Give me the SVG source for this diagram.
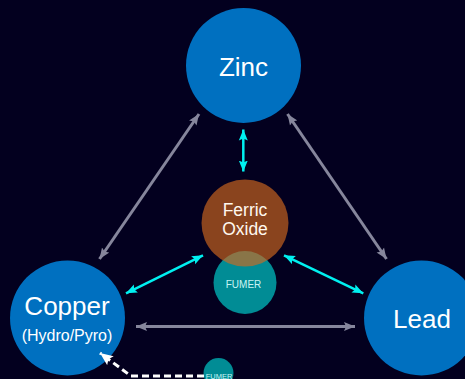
<svg xmlns="http://www.w3.org/2000/svg" width="465" height="379" viewBox="0 0 465 379">
  <defs>
    <style>
      .bg { fill: #03001f; }
      .metal { fill: #0070c0; }
      .fumer { fill: #018c95; }
      .ferric { fill: #d2691e; fill-opacity: 0.65; }
      .label { font-family: "Liberation Sans", Arial, sans-serif; fill: #ffffff; text-anchor: middle; }
      .big { font-size: 26px; }
      .sub { font-size: 16px; }
      .mid { font-size: 17.5px; fill: #fff8ee; }
      .fumer-label { font-family: "Liberation Sans", Arial, sans-serif; fill: #c8f4f4; text-anchor: middle; }
      .gray { stroke: #86869c; stroke-width: 3; fill: none; }
      .cyan { stroke: #00f0f0; stroke-width: 2.5; fill: none; }
      .dash { stroke: #ffffff; stroke-width: 3; fill: none; stroke-dasharray: 7 4; }
    </style>
    <marker id="head-gray" markerUnits="userSpaceOnUse" markerWidth="12" markerHeight="10" viewBox="0 0 12 10" refX="11" refY="5" orient="auto-start-reverse">
      <path d="M0,0.5 L11,5 L0,9.5 L2,5 Z" fill="#86869c"/>
    </marker>
    <marker id="head-cyan" markerUnits="userSpaceOnUse" markerWidth="12" markerHeight="10" viewBox="0 0 12 10" refX="11" refY="5" orient="auto-start-reverse">
      <path d="M0,0.5 L11,5 L0,9.5 L2,5 Z" fill="#00f0f0"/>
    </marker>
    <marker id="head-white" markerUnits="userSpaceOnUse" markerWidth="14" markerHeight="12" viewBox="0 0 14 12" refX="13" refY="6" orient="auto">
      <path d="M0,0.5 L13,6 L0,11.5 L2.5,6 Z" fill="#ffffff"/>
    </marker>
  </defs>

  <rect class="bg" x="0" y="0" width="465" height="379"/>

  <g id="zinc">
    <circle class="metal" cx="243.5" cy="65.5" r="57.5"/>
    <text class="label big" x="243.5" y="75.5">Zinc</text>
  </g>

  <g id="copper">
    <circle class="metal" cx="67.5" cy="318" r="57.5"/>
    <text class="label big" x="67" y="315">Copper</text>
    <text class="label sub" x="67" y="340.5">(Hydro/Pyro)</text>
  </g>

  <g id="lead">
    <circle class="metal" cx="421.5" cy="318" r="57.5"/>
    <text class="label big" x="422" y="328">Lead</text>
  </g>

  <g id="fumer">
    <circle class="fumer" cx="245" cy="282.5" r="31.5"/>
  </g>

  <g id="ferric-oxide">
    <circle class="ferric" cx="245" cy="223" r="43.5"/>
    <text class="label mid" x="245" y="215.5">Ferric</text>
    <text class="label mid" x="245" y="234.5">Oxide</text>
  </g>

  <g id="fumer-label">
    <text class="fumer-label" x="243.5" y="287.5" font-size="10">FUMER</text>
  </g>

  <g id="fumer-small">
    <circle class="fumer" cx="218.5" cy="373" r="15"/>
    <text class="fumer-label" x="219" y="378.5" font-size="7.5">FUMER</text>
  </g>

  <g id="connectors">
    <!-- metal-to-metal links -->
    <line class="gray" x1="199" y1="114" x2="99.5" y2="259" marker-start="url(#head-gray)" marker-end="url(#head-gray)"/>
    <line class="gray" x1="287.5" y1="114" x2="386.5" y2="259" marker-start="url(#head-gray)" marker-end="url(#head-gray)"/>
    <line class="gray" x1="136" y1="326.5" x2="355" y2="326.5" marker-start="url(#head-gray)" marker-end="url(#head-gray)"/>
    <!-- links to the ferric oxide hub -->
    <line class="cyan" x1="243.3" y1="129.5" x2="243.3" y2="171.5" marker-start="url(#head-cyan)" marker-end="url(#head-cyan)"/>
    <line class="cyan" x1="126" y1="293.3" x2="203" y2="255.3" marker-start="url(#head-cyan)" marker-end="url(#head-cyan)"/>
    <line class="cyan" x1="284" y1="255.3" x2="363.3" y2="293.3" marker-start="url(#head-cyan)" marker-end="url(#head-cyan)"/>
    <!-- fumer feed back to copper -->
    <path class="dash" d="M204,376 L131,376 L100,353" marker-end="url(#head-white)"/>
  </g>
</svg>
